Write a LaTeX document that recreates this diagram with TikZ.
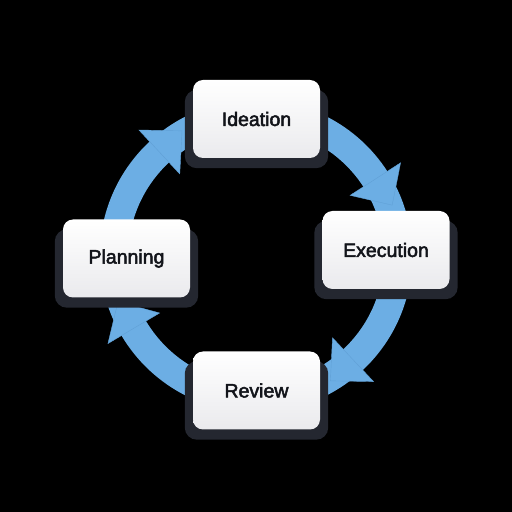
\documentclass[tikz,border=0pt]{standalone}
\usepackage{fontspec}
\newfontfamily\lblfont[FakeBold=2.6]{Liberation Sans}
\usetikzlibrary{calc,backgrounds}
\definecolor{ringblue}{RGB}{108,174,228}
\definecolor{tipedge}{RGB}{96,160,214}
\definecolor{shadowc}{RGB}{36,39,48}
\definecolor{txt}{RGB}{18,20,26}
\definecolor{boxbot}{RGB}{234,234,237}
\tikzset{
  stagebox/.style={rounded corners=10pt, minimum width=127pt, minimum height=78pt,
    inner sep=0pt, top color=white, bottom color=boxbot,
    font=\lblfont\fontsize{19.5}{22}\selectfont, text=txt},
  boxshadow/.style={fill=shadowc, rounded corners=12pt},
  ring/.style={draw=ringblue, line width=28.5pt},
  tiphead/.style={fill=ringblue, draw=tipedge, line width=0.4pt, line join=miter},
}
\begin{document}
\begin{tikzpicture}[x=1pt,y=1pt]
\useasboundingbox (0,0) rectangle (512,512);
\node[stagebox] (ide) at (256.5,393) {Ideation};
\node[stagebox] (exe) at (386,262) {Execution};
\node[stagebox] (pla) at (126.5,253.5) {Planning};
\node[stagebox] (rev) at (256.5,121.5) {Review};
\begin{scope}[on background layer]
  \fill[black] (0,0) rectangle (512,512);
  \coordinate (c) at (256,256);
  \draw[ring] (c) circle[radius=142];
  \foreach \a in {132.9,32.8,-46.9,210.6}{
    \filldraw[tiphead] ($(c)+(\a:112)$) -- ($(c)+(\a:172)$) -- ($(c)+(\a:142)+(\a-90:31)$) -- cycle;
  }
  \foreach \n in {ide,exe,pla,rev}{
    \fill[boxshadow] ($(\n.south west)+(-8,-10)$) rectangle ($(\n.north east)+(8,-10)$);
  }
\end{scope}
\end{tikzpicture}
\end{document}
